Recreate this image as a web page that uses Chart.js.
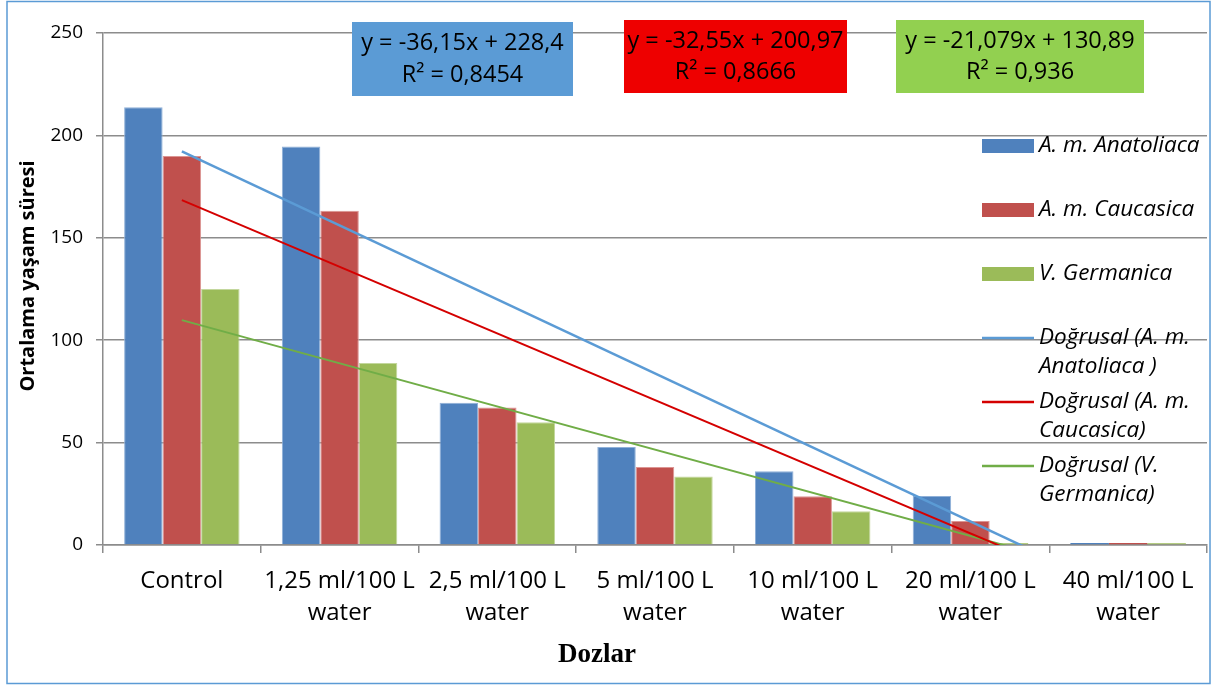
<!DOCTYPE html>
<html>
<head>
<meta charset="utf-8">
<script src="https://cdn.jsdelivr.net/npm/chart.js@4.4.1/dist/chart.umd.min.js"></script>
<style>
  html, body { margin: 0; padding: 0; background: #fff; }
  canvas { display: block; }
</style>
</head>
<body>
<canvas id="chart" width="1211" height="685"></canvas>
<script>
// ── data ──
const categories = [
  ['Control'],
  ['1,25 ml/100 L', 'water'],
  ['2,5 ml/100 L', 'water'],
  ['5 ml/100 L', 'water'],
  ['10 ml/100 L', 'water'],
  ['20 ml/100 L', 'water'],
  ['40 ml/100 L', 'water']
];
const anatoliaca = [213.8, 194.6, 69.5, 47.9, 36.0, 23.9, 1.0];
const caucasica  = [190.0, 163.2, 67.1, 38.1, 23.8, 11.7, 1.0];
const germanica  = [125.0, 88.9, 59.9, 33.4, 16.5, 0.8, 0.8];
const seriesNames = ['A. m. Anatoliaca', 'A. m. Caucasica', 'V. Germanica'];
const trendNames = ['Doğrusal (A. m.\nAnatoliaca )', 'Doğrusal (A. m.\nCaucasica)', 'Doğrusal (V.\nGermanica)'];
// Linear trendline coefficients as printed on the chart
const trendSlopes = [-36.15, -32.55, -21.079];
const trendIntercepts = [228.4, 200.97, 130.89];
const trendEquations = [
  ['y = -36,15x + 228,4', 'R² = 0,8454'],
  ['y = -32,55x + 200,97', 'R² = 0,8666'],
  ['y = -21,079x + 130,89', 'R² = 0,936']
];
const yTicks = [0, 50, 100, 150, 200, 250];

// ── styles ──
const FONT = "'Open Sans', sans-serif";
const GRID = '#8c8c8c';
const BAR_COLORS = ['#4f81bd', '#c0504d', '#9bbb59'];
const BAR_EDGES = ['#8fb0d8', '#dc9593', '#c3d79d'];
const TREND_COLORS = ['#5b9bd5', '#d40000', '#70ad47'];
const BOX_COLORS = ['#5b9bd5', '#ee0000', '#92d050'];
// equation boxes: left, top, width, height
const BOXES = [[352, 22, 221, 74], [624, 20, 223, 73], [896, 20, 248, 73]];
const LEGEND = { x: 982, swatchW: 52, swatchH: 14, textX: 1039, rows: [146, 210, 274, 338, 402, 466], lineGap: 29 };

// Excel draws the trendline from the first to the last category (x = 1..n)
function trendSeries(i) {
  const last = categories.length - 1;
  return categories.map((_, k) =>
    (k === 0 || k === last) ? trendSlopes[i] * (k + 1) + trendIntercepts[i] : null);
}

const barSets = [anatoliaca, caucasica, germanica].map((values, i) => ({
  type: 'bar',
  label: seriesNames[i],
  data: values,
  backgroundColor: BAR_COLORS[i],
  borderColor: BAR_EDGES[i],
  borderWidth: c => (c.raw > 3 ? 1 : 0),
  categoryPercentage: 0.732,
  barPercentage: 1.0,
  order: 2
}));

const trendSets = trendNames.map((name, i) => ({
  type: 'line',
  label: name,
  data: trendSeries(i),
  borderColor: TREND_COLORS[i],
  borderWidth: i === 0 ? 2.5 : 2,
  pointRadius: 0,
  spanGaps: true,
  fill: false,
  order: 1
}));

// ── custom drawing: equation boxes, legend, y title, x title, frame ──
const overlay = {
  id: 'overlay',
  afterDatasetsDraw(chart) {
    const ctx = chart.ctx;
    ctx.save();
    // equation boxes
    BOXES.forEach(([x, y, w, h], i) => {
      ctx.fillStyle = BOX_COLORS[i];
      ctx.fillRect(x, y, w, h);
      ctx.fillStyle = '#000';
      ctx.font = `23.5px ${FONT}`;
      ctx.textAlign = 'center';
      ctx.textBaseline = 'middle';
      const cx = x + w / 2;
      ctx.fillText(trendEquations[i][0], cx, y + h * 0.29);
      ctx.fillText(trendEquations[i][1], cx, y + h * 0.72);
    });

    // legend
    ctx.textAlign = 'left';
    ctx.textBaseline = 'middle';
    ctx.font = `italic 22.5px ${FONT}`;
    chart.data.datasets.forEach((ds, i) => {
      const cy = LEGEND.rows[i];
      if (ds.type === 'bar') {
        ctx.fillStyle = ds.backgroundColor;
        ctx.fillRect(LEGEND.x, cy - LEGEND.swatchH / 2, LEGEND.swatchW, LEGEND.swatchH);
      } else {
        ctx.strokeStyle = ds.borderColor;
        ctx.lineWidth = 2.5;
        ctx.beginPath();
        ctx.moveTo(LEGEND.x, cy);
        ctx.lineTo(LEGEND.x + LEGEND.swatchW, cy);
        ctx.stroke();
      }
      ctx.fillStyle = '#000';
      ds.label.split('\n').forEach((line, j) => {
        ctx.fillText(line, LEGEND.textX, cy + j * LEGEND.lineGap);
      });
    });

    // axis titles
    ctx.fillStyle = '#000';
    ctx.font = `bold 20px ${FONT}`;
    ctx.textAlign = 'center';
    ctx.save();
    ctx.translate(28, 276);
    ctx.rotate(-Math.PI / 2);
    ctx.fillText('Ortalama yaşam süresi', 0, 0);
    ctx.restore();
    ctx.font = "bold 27px 'Liberation Serif', serif";
    ctx.fillText('Dozlar', 597, 655);

    // outer frame
    ctx.strokeStyle = '#5b9bd5';
    ctx.lineWidth = 1.5;
    ctx.strokeRect(7, 1.5, 1203, 682);
    ctx.restore();
  }
};

new Chart(document.getElementById('chart'), {
  data: {
    labels: categories,
    datasets: [...barSets, ...trendSets]
  },
  options: {
    responsive: false,
    animation: false,
    devicePixelRatio: 1,
    layout: { padding: { top: 33, right: 4, left: 0, bottom: 0 } },
    plugins: {
      legend: { display: false },
      tooltip: { enabled: false }
    },
    scales: {
      x: {
        type: 'category',
        offset: true,
        grid: {
          offset: true,
          drawOnChartArea: false,
          drawTicks: true,
          tickLength: 8,
          color: GRID,
          lineWidth: 1.5
        },
        border: { color: GRID, width: 1.5 },
        ticks: {
          color: '#000',
          font: { family: FONT, size: 24, lineHeight: 1.33 },
          padding: 12,
          maxRotation: 0,
          autoSkip: false
        },
        afterFit: s => { s.height = 140; }
      },
      y: {
        min: 0,
        max: 250,
        afterBuildTicks: s => { s.ticks = yTicks.map(v => ({ value: v })); },
        grid: { color: GRID, lineWidth: 1.5, tickLength: 7 },
        border: { color: GRID, width: 1.5 },
        ticks: {
          color: '#000',
          font: { family: FONT, size: 19 },
          padding: 13
        },
        afterFit: s => { s.width = 103; }
      }
    }
  },
  plugins: [overlay]
});
</script>
</body>
</html>
